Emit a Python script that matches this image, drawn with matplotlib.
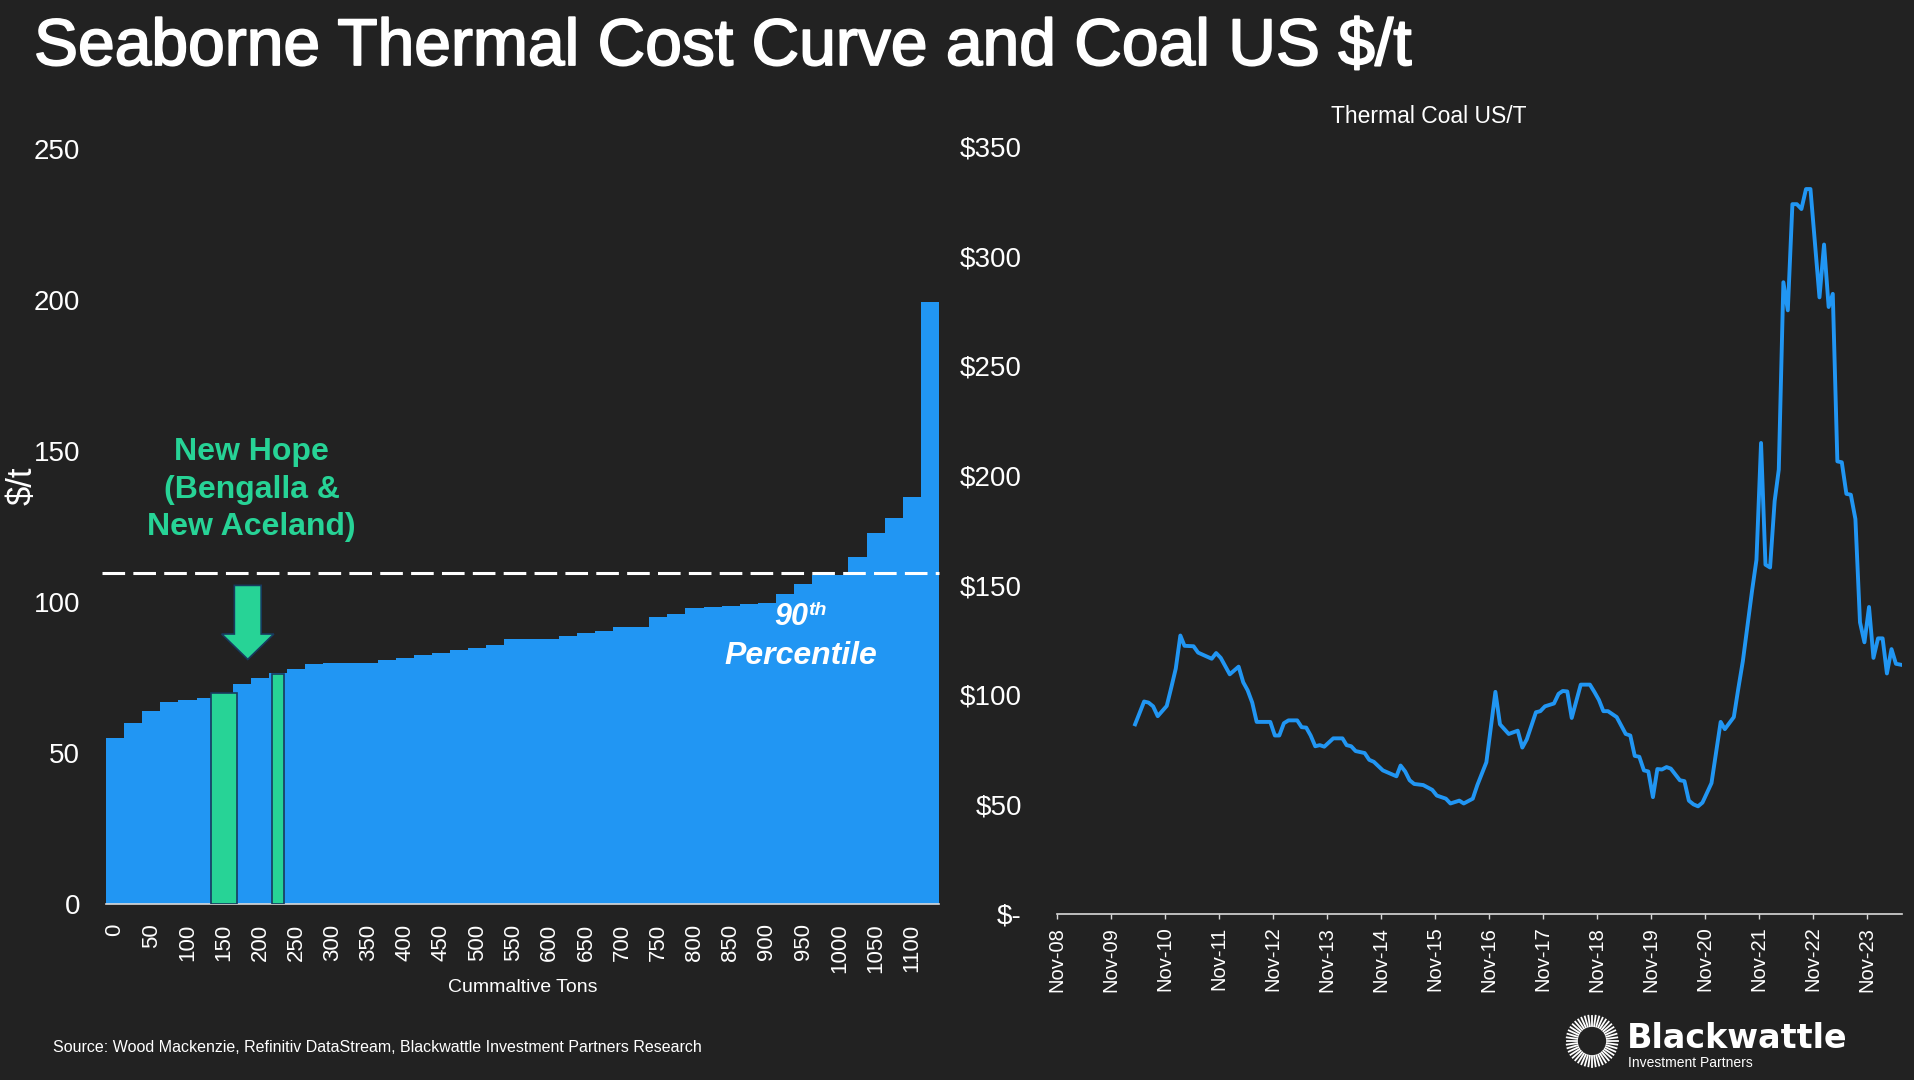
import matplotlib
matplotlib.use("Agg")
import matplotlib.pyplot as plt
import matplotlib.dates as mdates
import matplotlib.ticker as mticker
import matplotlib.patheffects as pe
from matplotlib.patches import FancyArrow
from matplotlib.lines import Line2D
import numpy as np
import pandas as pd

plt.rcParams['font.family'] = ['Liberation Sans', 'DejaVu Sans']

# ---------------- data ----------------
cum_tons = [0, 25, 50, 75, 100, 125, 150, 175, 200, 225, 250, 275, 300, 325, 350,
            375, 400, 425, 450, 475, 500, 525, 550, 575, 600, 625, 650, 675, 700,
            725, 750, 775, 800, 825, 850, 875, 900, 925, 950, 975, 1000, 1025,
            1050, 1075, 1100, 1125]
cost = [55.0, 60.0, 63.9, 66.9, 67.5, 68.3, 70.0, 72.8, 74.8, 76.5, 77.8, 79.5,
        79.8, 79.8, 79.8, 80.8, 81.5, 82.5, 83.1, 84.1, 84.8, 85.8, 87.8, 87.8,
        87.8, 88.8, 89.7, 90.4, 91.7, 91.7, 95.0, 96.0, 98.0, 98.3, 98.7, 99.3,
        99.7, 102.6, 105.9, 108.9, 108.9, 114.9, 122.8, 127.8, 134.8, 199.3]
tick_tons = [0, 50, 100, 150, 200, 250, 300, 350, 400, 450, 500, 550, 600, 650,
             700, 750, 800, 850, 900, 950, 1000, 1050, 1100]

new_hope_tons = [150, 225]
new_hope_width = [36, 17.5]
new_hope_cost = [70.0, 76.0]
percentile_90 = 109.5

coal_dates = ["2010-04", "2010-06", "2010-07", "2010-08", "2010-09", "2010-11", "2010-12",
              "2011-01", "2011-02", "2011-03", "2011-05", "2011-06", "2011-09", "2011-10",
              "2011-11", "2012-01", "2012-03", "2012-04", "2012-05", "2012-06", "2012-07",
              "2012-10", "2012-11", "2012-12", "2013-01", "2013-02", "2013-04", "2013-05",
              "2013-06", "2013-07", "2013-08", "2013-09", "2013-10", "2013-12", "2014-02",
              "2014-03", "2014-04", "2014-05", "2014-07", "2014-08", "2014-09", "2014-11",
              "2015-02", "2015-03", "2015-04", "2015-05", "2015-06", "2015-08", "2015-10",
              "2015-11", "2016-01", "2016-02", "2016-04", "2016-05", "2016-07", "2016-08",
              "2016-10", "2016-12", "2017-01", "2017-03", "2017-05", "2017-06", "2017-07",
              "2017-09", "2017-10", "2017-11", "2018-01", "2018-02", "2018-03", "2018-04",
              "2018-05", "2018-07", "2018-09", "2018-10", "2018-11", "2018-12", "2019-01",
              "2019-03", "2019-05", "2019-06", "2019-07", "2019-08", "2019-09", "2019-10",
              "2019-11", "2019-12", "2020-01", "2020-02", "2020-03", "2020-05", "2020-06",
              "2020-07", "2020-08", "2020-09", "2020-10", "2020-12", "2021-02", "2021-03",
              "2021-05", "2021-06", "2021-07", "2021-09", "2021-10", "2021-11", "2021-12",
              "2022-01", "2022-02", "2022-03", "2022-04", "2022-05", "2022-06", "2022-07",
              "2022-08", "2022-09", "2022-10", "2022-12", "2023-01", "2023-02", "2023-03",
              "2023-04", "2023-05", "2023-06", "2023-07", "2023-08", "2023-09", "2023-10",
              "2023-11", "2023-12", "2024-01", "2024-02", "2024-03", "2024-04", "2024-05",
              "2024-06"]
coal_price = [86.5, 96.9, 96.4, 94.7, 90.2, 94.9, 103.1,
              111.9, 127.0, 122.3, 122.1, 119.2, 116.4, 119.0,
              116.8, 109.3, 112.8, 105.7, 102.0, 96.4, 87.6,
              87.6, 81.4, 81.4, 87.0, 88.3, 88.3, 85.2,
              85.0, 81.4, 76.5, 77.0, 76.3, 80.1, 80.1,
              77.0, 76.5, 74.3, 73.4, 70.3, 69.4, 65.5,
              62.8, 67.7, 65.0, 61.0, 59.3, 58.8, 56.6,
              54.0, 52.6, 50.4, 51.7, 50.4, 52.6, 58.8,
              69.2, 101.3, 86.5, 82.1, 83.6, 75.9, 79.6,
              92.0, 92.5, 94.7, 96.0, 100.4, 101.7, 101.5,
              89.4, 104.6, 104.6, 101.3, 97.6, 92.5, 92.5,
              89.8, 82.1, 81.4, 72.1, 71.7, 65.5, 65.0,
              53.3, 66.1, 65.9, 67.0, 66.3, 61.0, 60.6,
              51.7, 50.0, 49.1, 50.8, 59.7, 87.6, 84.3,
              89.8, 103.1, 115.3, 147.3, 161.5, 214.8, 159.3,
              158.0, 188.3, 202.7, 288.1, 275.3, 323.7, 323.7,
              321.5, 330.6, 330.6, 281.2, 305.3, 276.8, 282.8,
              206.4, 206.0, 191.6, 191.2, 180.1, 133.0, 123.9,
              140.0, 116.8, 125.7, 125.7, 109.7, 120.8, 114.1,
              113.7]
year_ticks = ["2008-11-01", "2009-11-01", "2010-11-01", "2011-11-01", "2012-11-01",
              "2013-11-01", "2014-11-01", "2015-11-01", "2016-11-01", "2017-11-01",
              "2018-11-01", "2019-11-01", "2020-11-01", "2021-11-01", "2022-11-01",
              "2023-11-01"]

# ---------------- style ----------------
W, H = 1914, 1080
BG = '#222222'
BLUE = '#2196F3'
GREEN = '#27D396'
EDGE = '#173A5E'
WHITE = '#FFFFFF'
AXIS = '#D9D9D9'


def fx(p):
    return p / W


def fy(p):
    return 1 - p / H


fig = plt.figure(figsize=(W / 100, H / 100), dpi=100, facecolor=BG)

# ---------------- left: cost curve ----------------
axL = fig.add_axes([fx(106), fy(904), (939 - 106) / W, (904 - 149) / H])
axL.set_facecolor(BG)
axL.bar(cum_tons, cost, width=25, align='center', color=BLUE, linewidth=0,
        antialiased=False, zorder=1)
axL.bar(new_hope_tons, new_hope_cost, width=new_hope_width, align='center',
        color=GREEN, edgecolor=EDGE, linewidth=1.2, zorder=3)
axL.hlines(percentile_90, -18, 1137.5, colors=WHITE, linewidth=2.2,
           linestyles=(0, (7.4, 2.7)), zorder=4, clip_on=False)
axL.set_xlim(-12.5, 1137.5)
axL.set_ylim(0, 250)
axL.set_yticks([0, 50, 100, 150, 200, 250])
axL.set_xticks(tick_tons)
axL.set_xticklabels([str(t) for t in tick_tons], rotation=90)
axL.tick_params(axis='y', length=0, pad=18.5, labelsize=20, labelcolor=WHITE)
axL.tick_params(axis='x', length=0, pad=14, labelsize=16, labelcolor=WHITE)
for s in ['top', 'right', 'left']:
    axL.spines[s].set_visible(False)
axL.spines['bottom'].set_color(AXIS)
axL.spines['bottom'].set_linewidth(1.2)
axL.spines['bottom'].set_zorder(2)

arrow = FancyArrow(183.2, 105.5, 0, -24.5, width=37, head_width=72,
                   head_length=8.4, length_includes_head=True,
                   facecolor=GREEN, edgecolor=EDGE, linewidth=1.2, zorder=5)
axL.add_patch(arrow)

axL.text(188.4, 137.2, "New Hope\n(Bengalla &\nNew Aceland)", color=GREEN,
         fontsize=23, fontweight='bold', ha='center', va='center',
         multialignment='center', linespacing=1.33, zorder=6)
axL.text(956.7, 92.4, "90", color=WHITE, fontsize=22, fontweight='bold',
         style='italic', ha='right', va='baseline', zorder=6)
axL.text(956.7, 95.7, "th", color=WHITE, fontsize=14, fontweight='bold',
         style='italic', ha='left', va='baseline', zorder=6)
axL.text(946.8, 79.5, "Percentile", color=WHITE, fontsize=23, fontweight='bold',
         style='italic', ha='center', va='baseline', zorder=6)

fig.text(fx(522.5), fy(987), "Cummaltive Tons", color=WHITE, fontsize=14,
         ha='center', va='center')
fig.text(fx(22), fy(486), "$/t", color=WHITE, fontsize=25, rotation=90,
         ha='center', va='center')

# ---------------- right: thermal coal ----------------
dates = pd.to_datetime([d + "-15" for d in coal_dates])
axR = fig.add_axes([fx(1056.7), fy(914), (1902 - 1056.7) / W, (914 - 146.5) / H])
axR.set_facecolor(BG)
axR.plot(dates, coal_price, color=BLUE, linewidth=2.8, solid_joinstyle='round')
axR.set_ylim(0, 350)
axR.set_xlim(pd.Timestamp("2008-11-01"), pd.Timestamp("2024-06-25"))
axR.set_yticks([0, 50, 100, 150, 200, 250, 300, 350])
axR.yaxis.set_major_formatter(mticker.FuncFormatter(
    lambda v, p: "$-" if v == 0 else f"${v:.0f}"))
axR.set_xticks(pd.to_datetime(year_ticks))
axR.xaxis.set_major_formatter(mdates.DateFormatter('%b-%y'))
for lab in axR.get_xticklabels():
    lab.set_rotation(90)
axR.tick_params(axis='y', length=0, pad=25, labelsize=20, labelcolor=WHITE)
axR.tick_params(axis='x', length=3.6, width=1, color=AXIS, direction='out',
                pad=5.5, labelsize=14.5, labelcolor=WHITE)
for s in ['top', 'right', 'left']:
    axR.spines[s].set_visible(False)
axR.spines['bottom'].set_color(AXIS)
axR.spines['bottom'].set_linewidth(1.2)

fig.text(fx(1428.5), fy(122.7), "Thermal Coal US/T", color=WHITE, fontsize=16.5,
         ha='center', va='baseline')

# ---------------- title, source, logo ----------------
fig.text(fx(34), fy(65), "Seaborne Thermal Cost Curve and Coal US $/t", color=WHITE,
         fontsize=47.5, ha='left', va='baseline',
         path_effects=[pe.withStroke(linewidth=1.3, foreground=WHITE)])
fig.text(fx(52.6), fy(1051.5),
         "Source: Wood Mackenzie, Refinitiv DataStream, Blackwattle Investment Partners Research",
         color=WHITE, fontsize=11.5, ha='left', va='baseline')

cx, cy = 1592, 1041
for ang in np.linspace(0, 2 * np.pi, 44, endpoint=False):
    x0, y0 = cx + 15 * np.cos(ang), cy + 15 * np.sin(ang)
    x1, y1 = cx + 25.5 * np.cos(ang), cy + 25.5 * np.sin(ang)
    fig.add_artist(Line2D([fx(x0), fx(x1)], [fy(y0), fy(y1)], color=WHITE,
                          linewidth=1.3, transform=fig.transFigure))
fig.text(fx(1627), fy(1047.7), "Blackwattle", color=WHITE, fontsize=24,
         fontweight='bold', family='DejaVu Sans', ha='left', va='baseline')
fig.text(fx(1628), fy(1066.7), "Investment Partners", color=WHITE, fontsize=10,
         ha='left', va='baseline')

fig.savefig("out.png", dpi=100, facecolor=BG)
